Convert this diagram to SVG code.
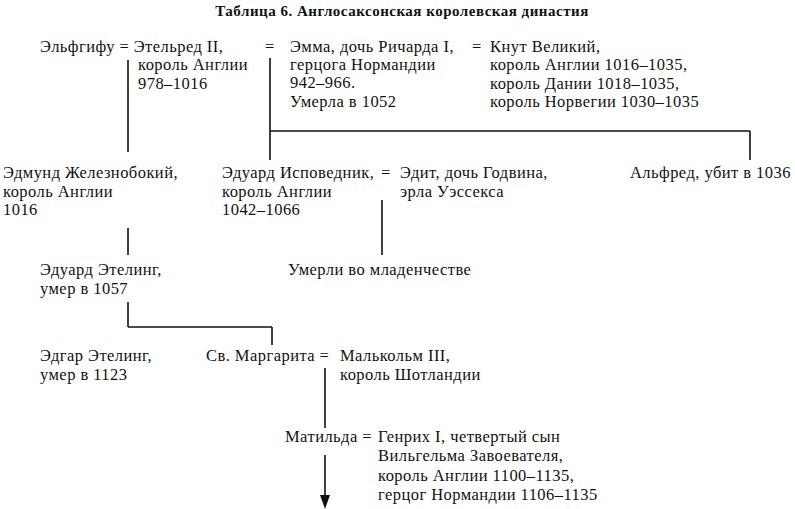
<svg xmlns="http://www.w3.org/2000/svg" width="795" height="509" viewBox="0 0 795 509">
<style>
text{font-family:"Liberation Serif","DejaVu Serif",serif;font-size:16.5px;letter-spacing:0.45px;fill:#111}
.t{font-weight:bold;font-size:15px;letter-spacing:0.5px}
line{stroke:#111;stroke-width:1.6}
</style>
<rect width="795" height="509" fill="#fff"/>
<text class="t" x="402" y="16" text-anchor="middle">Таблица 6. Англосаксонская королевская династия</text>
<g id="connectors">
<line x1="128" y1="60" x2="128" y2="152"/>
<line x1="270" y1="58" x2="270" y2="160"/>
<line x1="270" y1="131" x2="750" y2="131"/>
<line x1="750" y1="131" x2="750" y2="160"/>
<line x1="128" y1="228" x2="128" y2="255"/>
<line x1="382" y1="200" x2="382" y2="255"/>
<line x1="128" y1="302" x2="128" y2="327"/>
<line x1="128" y1="327" x2="272" y2="327"/>
<line x1="272" y1="327" x2="272" y2="345"/>
<line x1="325" y1="368" x2="325" y2="428"/>
<line x1="325" y1="455" x2="325" y2="499"/>
<path d="M320,495 L330,495 L325,509 Z" fill="#111"/>
</g>
<g id="n-elfgifu"><text x="40" y="52">Эльфгифу = Этельред II,</text><text x="138" y="70">король Англии</text><text x="138" y="89">978–1016</text></g>
<g id="n-emma"><text x="270" y="52" text-anchor="middle">=</text><text x="290" y="52">Эмма, дочь Ричарда I,</text><text x="290" y="70">герцога Нормандии</text><text x="290" y="88">942–966.</text><text x="290" y="107">Умерла в 1052</text></g>
<g id="n-knut"><text x="472" y="52">=</text><text x="490" y="52">Кнут Великий,</text><text x="490" y="70">король Англии 1016–1035,</text><text x="490" y="89">король Дании 1018–1035,</text><text x="490" y="107">король Норвегии 1030–1035</text></g>
<g id="n-edmund"><text x="3" y="178">Эдмунд Железнобокий,</text><text x="3" y="197">король Англии</text><text x="3" y="215">1016</text></g>
<g id="n-edward"><text x="222" y="178">Эдуард Исповедник,</text><text x="222" y="197">король Англии</text><text x="222" y="215">1042–1066</text></g>
<g id="n-edith"><text x="386" y="178" text-anchor="middle">=</text><text x="400" y="178">Эдит, дочь Годвина,</text><text x="400" y="197">эрла Уэссекса</text></g>
<g id="n-alfred"><text x="630" y="178">Альфред, убит в 1036</text></g>
<g id="n-edward-atheling"><text x="40" y="275">Эдуард Этелинг,</text><text x="40" y="294">умер в 1057</text></g>
<g id="n-infants"><text x="288" y="275">Умерли во младенчестве</text></g>
<g id="n-edgar"><text x="40" y="361">Эдгар Этелинг,</text><text x="40" y="380">умер в 1123</text></g>
<g id="n-margaret"><text x="206" y="361">Св. Маргарита =</text><text x="340" y="361">Малькольм III,</text><text x="340" y="380">король Шотландии</text></g>
<g id="n-matilda"><text x="285" y="442">Матильда =</text><text x="378" y="442">Генрих I, четвертый сын</text><text x="378" y="461">Вильгельма Завоевателя,</text><text x="378" y="481">король Англии 1100–1135,</text><text x="378" y="500">герцог Нормандии 1106–1135</text></g>
</svg>
